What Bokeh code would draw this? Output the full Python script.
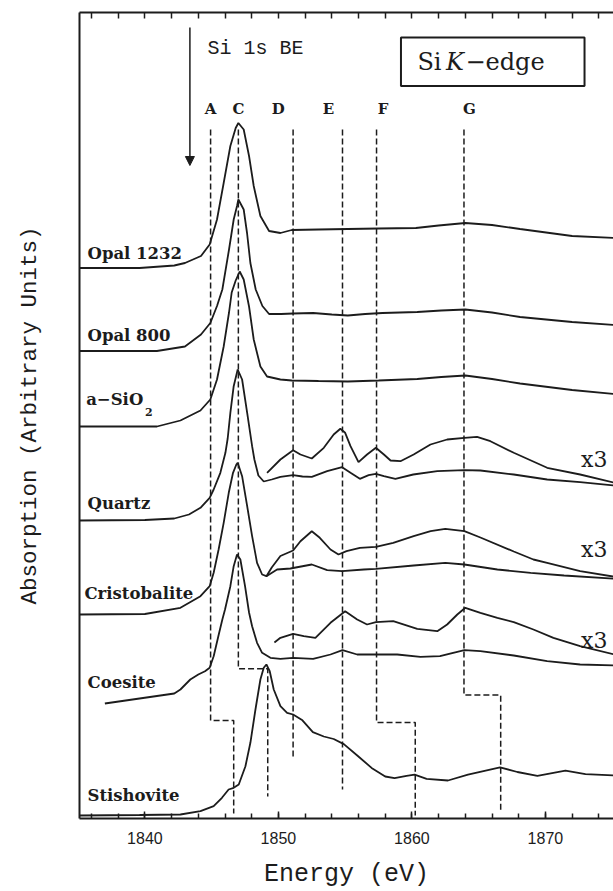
import numpy as np
from bokeh.plotting import figure
from bokeh.models import Range1d, LinearAxis, FixedTicker, SingleIntervalTicker, Arrow, NormalHead
from bokeh.core.properties import value
from bokeh.embed import file_html
from bokeh.resources import INLINE

# ---------------- data (energy in eV, absorption in arbitrary units) ----------------
samples = ["Opal 1232", "Opal 800", "a\u2212SiO", "Quartz", "Cristobalite", "Coesite", "Stishovite"]
offsets = [550.5, 467.5, 392, 298, 204, 114, 3]

opal1232_E = [1835.0, 1839.6, 1842.2, 1843.0, 1844.2, 1844.85, 1845.4, 1845.9, 1846.4, 1846.8, 1847.0, 1847.4,
              1847.8, 1848.15, 1848.65, 1849.3, 1850.15, 1851.0, 1853.0, 1855.2, 1857.5, 1860.3, 1862.0, 1864.0,
              1866.0, 1868.1, 1872.0, 1875.2]
opal1232_A = [0, 0, 2.5, 5, 12, 23.5, 48.5, 85, 122, 140, 145, 138.5, 112, 82, 52, 37, 35, 38, 38.5, 39, 39.5,
              40, 42.5, 45, 43, 39, 32, 30]

opal800_E = [1835.0, 1840.9, 1843.0, 1844.2, 1844.9, 1845.4, 1845.8, 1846.3, 1846.65, 1846.9, 1847.0, 1847.4,
             1847.65, 1847.9, 1848.3, 1848.8, 1849.3, 1850.2, 1851.1, 1852.6, 1854.0, 1855.2, 1856.5, 1857.8,
             1860.4, 1862.2, 1864.0, 1866.0, 1868.1, 1872.0, 1875.2]
opal800_A = [0, 0, 4.5, 16.5, 28, 45, 61.5, 101.5, 131.5, 145, 151.5, 141.5, 118, 88, 61.5, 45, 37, 37, 37.5, 38,
             36.5, 35.5, 37, 38, 39, 40.5, 41.5, 38.5, 34, 29, 26]

asio2_E = [1835.0, 1840.9, 1842.66, 1844.16, 1844.9, 1845.4, 1845.9, 1846.3, 1846.5, 1846.8, 1847.1, 1847.4,
           1847.8, 1848.15, 1848.65, 1849.15, 1850.15, 1851.0, 1853.0, 1855.2, 1857.5, 1860.4, 1862.2, 1864.0,
           1866.0, 1868.1, 1872.0, 1875.2]
asio2_A = [0, 0, 6, 16, 27, 47, 80, 114, 134, 146, 155, 147, 120, 87, 60, 50, 47, 46, 45.5, 45, 46, 47.5, 49.5,
           51, 47.5, 43, 36.5, 32.5]

quartz_E = [1835.0, 1840.0, 1842.2, 1843.3, 1844.16, 1844.85, 1845.15, 1845.65, 1846.03, 1846.2, 1846.4, 1846.65,
            1846.95, 1847.28, 1847.66, 1848.03, 1848.2, 1848.5, 1848.9, 1849.5, 1850.15, 1851.1, 1851.8, 1852.5,
            1853.65, 1854.77, 1855.4, 1856.1, 1856.76, 1857.3, 1857.9, 1858.76, 1860.1, 1861.9, 1863.93, 1865.13,
            1867.63, 1870.13, 1872.6, 1875.2]
quartz_A = [0, 0.5, 2, 6, 12.7, 22.7, 31, 47.7, 67.7, 82, 107.7, 134.3, 151, 141, 107.7, 74.3, 61, 45, 39, 41,
            43.7, 45.3, 44, 43.7, 49.3, 53.3, 47.7, 41.7, 45.3, 46.7, 44.3, 41.7, 46, 49.3, 50.3, 50, 46, 41,
            38.3, 35]
quartz_x3_E = [1849.15, 1850.15, 1851.1, 1851.65, 1852.5, 1853.4, 1854.14, 1854.64, 1855.0, 1855.4, 1856.0,
               1856.64, 1857.3, 1857.9, 1858.4, 1859.14, 1860.13, 1861.39, 1862.64, 1863.93, 1864.88, 1865.88,
               1867.63, 1870.13, 1872.6, 1875.2]
quartz_x3_A = [47.7, 61, 70.3, 66, 62, 72.7, 86, 91.7, 87.7, 74.3, 58.3, 66, 72.7, 66, 60, 59.3, 66, 76, 81,
               82.7, 83.7, 79.3, 67.7, 52.7, 46, 37.7]

crist_E = [1835.0, 1840.0, 1842.66, 1844.16, 1844.85, 1845.15, 1845.52, 1845.9, 1846.28, 1846.6, 1846.85,
           1846.95, 1847.28, 1847.66, 1848.03, 1848.4, 1848.78, 1849.1, 1849.9, 1850.9, 1852.5, 1853.65, 1854.77,
           1856.4, 1857.3, 1860.13, 1862.5, 1863.93, 1866.4, 1868.9, 1871.4, 1875.2]
crist_A = [0, 0.5, 6.7, 18.3, 28.3, 41.7, 65, 91.7, 121.7, 141.7, 150, 151.7, 138.3, 108.3, 78.3, 51.7, 40,
           38.3, 45, 46, 50, 44.3, 43.3, 45, 45.7, 49, 51.7, 50, 45, 41.7, 39, 35.7]
crist_x3_E = [1849.1, 1849.5, 1850.15, 1851.1, 1851.65, 1852.5, 1853.1, 1853.9, 1854.5, 1855.1, 1856.1, 1857.3,
              1858.6, 1860.13, 1861.4, 1862.5, 1863.93, 1865.13, 1867.63, 1869.1, 1870.13, 1872.6, 1875.2]
crist_x3_A = [38.3, 47, 58.5, 64, 73.3, 83.3, 76.7, 65, 60, 63.3, 66.7, 67.7, 71.7, 78.3, 83.3, 85.7, 83.3, 77,
              63, 55, 51.7, 43.3, 37.7]

coes_E = [1837.0, 1839.6, 1842.2, 1842.66, 1843.4, 1844.0, 1844.5, 1844.85, 1845.15, 1845.5, 1845.8, 1846.0,
          1846.4, 1846.65, 1846.9, 1847.15, 1847.5, 1847.8, 1848.03, 1848.4, 1848.78, 1849.4, 1850.15, 1851.1,
          1852.6, 1853.9, 1854.8, 1855.9, 1857.3, 1858.9, 1860.64, 1862.1, 1863.93, 1865.13, 1867.63, 1870.13,
          1872.6, 1875.2]
coes_A = [1, 6, 11, 15, 25, 30, 33.3, 36.7, 48.3, 68.3, 85, 95, 118.3, 138.3, 150, 145, 118.3, 92, 78.3, 61.7,
          51.7, 46.7, 45.7, 46.7, 45.7, 50, 54.3, 50, 50, 50, 47.7, 48.3, 54.3, 53.3, 49, 43.3, 40, 39]
coes_x3_E = [1849.7, 1850.15, 1851.1, 1851.9, 1852.77, 1853.9, 1855.0, 1855.9, 1856.64, 1857.3, 1858.6, 1860.4,
             1861.9, 1862.64, 1863.4, 1864.0, 1865.13, 1866.4, 1867.63, 1869.1, 1870.6, 1872.6, 1875.2]
coes_x3_A = [62, 66.7, 70.7, 68.3, 66.7, 81.7, 93.3, 85, 80, 82.3, 83.3, 75.7, 73.3, 80, 90, 96.7, 91.7, 86.7,
             82.3, 75, 66.7, 58.3, 50]

stish_E = [1835.0, 1839.6, 1842.66, 1844.16, 1845.15, 1845.77, 1846.27, 1846.65, 1847.03, 1847.53, 1847.9,
           1848.28, 1848.65, 1848.9, 1849.1, 1849.35, 1849.65, 1850.15, 1850.65, 1851.1, 1851.8, 1852.58, 1853.4,
           1854.14, 1854.9, 1855.95, 1856.98, 1858.0, 1858.7, 1859.6, 1860.2, 1861.1, 1862.7, 1864.2, 1866.6,
           1867.9, 1869.4, 1871.5, 1873.0, 1875.2]
stish_A = [0, 0.5, 1, 4.3, 9.3, 17.7, 26, 27.7, 31, 49.3, 72.7, 106, 136, 147.7, 151, 144.3, 126, 109.3, 102.7,
           101, 95.2, 83.3, 79, 76.5, 71.4, 59.5, 47.6, 39, 37.4, 39.7, 40.8, 36.7, 35, 40.8, 48.2, 43.5, 39.7,
           44.8, 41.4, 40]

main_E = [opal1232_E, opal800_E, asio2_E, quartz_E, crist_E, coes_E, stish_E]
main_A = [opal1232_A, opal800_A, asio2_A, quartz_A, crist_A, coes_A, stish_A]
x3_index = [3, 4, 5]
x3_E = [quartz_x3_E, crist_x3_E, coes_x3_E]
x3_A = [quartz_x3_A, crist_x3_A, coes_x3_A]
x3_label_y = [359, 269, 178]

# feature markers A, C, D, E, F, G (silica-IV energies and their stishovite counterparts)
feat_names = ["A", "C", "D", "E", "F", "G"]
feat_label_E = [1844.92, 1847.0, 1849.98, 1853.75, 1857.84, 1864.3]
feat_E = [1844.92, 1847.0, 1851.1, 1854.8, 1857.35, 1863.9]
feat_stop = [98, 149.7, 61, 29, 96, 123.4]
feat_stish_E = [1846.65, 1849.2, None, None, 1860.25, 1866.65]
feat_stish_stop = [5, 22, None, None, 3, 6]
feat_top = 689

si1s_BE = 1843.37

# ---------------- figure ----------------
INK = "#1c1c1c"
p = figure(frame_width=534, frame_height=806, x_range=Range1d(1835.1, 1875.1), y_range=Range1d(0, 806),
           output_backend="svg", toolbar_location=None, x_axis_location=None, y_axis_location=None,
           min_border_left=79, min_border_right=0, min_border_top=12, min_border_bottom=0)
p.outline_line_color = None
p.grid.visible = False
p.background_fill_color = "white"

bottom = LinearAxis(ticker=SingleIntervalTicker(interval=10, num_minor_ticks=5), axis_label="Energy (eV)")
bottom.axis_line_width = 2
bottom.axis_line_color = INK
bottom.major_tick_in = 7
bottom.major_tick_out = 0
bottom.minor_tick_in = 5
bottom.minor_tick_out = 0
bottom.major_tick_line_color = INK
bottom.minor_tick_line_color = INK
bottom.major_tick_line_width = 1.5
bottom.minor_tick_line_width = 1.5
bottom.major_label_standoff = 13
bottom.major_label_text_font = "Liberation Sans"
bottom.major_label_text_font_size = "16px"
bottom.major_label_text_color = INK
bottom.axis_label_standoff = 13
bottom.axis_label_text_font = "Liberation Mono"
bottom.axis_label_text_font_style = "normal"
bottom.axis_label_text_font_size = "25px"
bottom.axis_label_text_color = INK
p.add_layout(bottom, "below")

top = LinearAxis(ticker=SingleIntervalTicker(interval=2, num_minor_ticks=0))
top.axis_line_width = 2
top.axis_line_color = INK
top.major_tick_in = 6
top.major_tick_out = 0
top.minor_tick_in = 0
top.minor_tick_out = 0
top.major_tick_line_color = INK
top.major_tick_line_width = 1.5
top.major_label_text_color = None
top.major_label_text_font_size = "1px"
top.major_label_standoff = 0
p.add_layout(top, "above")

left = LinearAxis(ticker=FixedTicker(ticks=[]), axis_label="Absorption (Arbitrary Units)")
left.axis_line_width = 2
left.axis_line_color = INK
left.major_label_text_color = None
left.major_label_text_font_size = "1px"
left.major_tick_in = 0
left.major_tick_out = 0
left.axis_label_standoff = 37
left.axis_label_text_font = "Liberation Mono"
left.axis_label_text_font_style = "normal"
left.axis_label_text_font_size = "22.5px"
left.axis_label_text_color = INK
p.add_layout(left, "left")

# spectra
for E, A, off in zip(main_E, main_A, offsets):
    p.line(E, [a + off for a in A], line_color=INK, line_width=1.8)
for idx, E, A in zip(x3_index, x3_E, x3_A):
    p.line(E, [a + offsets[idx] for a in A], line_color=INK, line_width=1.8)

# dashed feature lines
xs, ys = [], []
for fe, stop, se, sstop in zip(feat_E, feat_stop, feat_stish_E, feat_stish_stop):
    if se is None:
        xs.append([fe, fe]); ys.append([feat_top, stop])
    else:
        xs.append([fe, fe, se, se]); ys.append([feat_top, stop, stop, sstop])
p.multi_line(xs, ys, line_color=INK, line_width=1.5, line_dash="6 3")

# texts
label_x = [1835.7, 1835.7, 1835.6, 1835.7, 1835.47, 1835.7, 1835.7]
label_y = [565, 483, 419, 315, 225, 136, 23]
p.text(label_x, label_y, text=samples, text_font=value("DejaVu Serif"), text_font_style="bold",
       text_font_size="16.5px", text_baseline="middle", text_align="left", text_color=INK)
p.text([1840.0], [407], text=["2"], text_font=value("DejaVu Serif"), text_font_style="bold",
       text_font_size="11px", text_baseline="middle", text_align="left", text_color=INK)

p.text([1874.65] * 3, x3_label_y, text=["x3"] * 3, text_font=value("DejaVu Serif"),
       text_font_size="22px", text_baseline="middle", text_align="right", text_color=INK)

p.text(feat_label_E, [710] * 6, text=feat_names, text_font=value("DejaVu Serif"), text_font_style="bold",
       text_font_size="15px", text_baseline="middle", text_align="center", text_color=INK)

p.text([1844.68], [770], text=["Si 1s BE"], text_font=value("Liberation Mono"), text_font_size="20px",
       text_baseline="middle", text_align="left", text_color=INK)
p.add_layout(Arrow(end=NormalHead(size=9, fill_color=INK, line_color=INK), x_start=si1s_BE, y_start=791,
                   x_end=si1s_BE, y_end=653, line_color=INK, line_width=1.5))

# Si K-edge box
p.quad(left=[1859.18], right=[1872.93], bottom=[732.5], top=[781], fill_color=None, line_color=INK, line_width=2)
p.text([1860.41], [757], text=["Si"], text_font=value("DejaVu Serif"), text_font_size="24px",
       text_baseline="middle", text_align="left", text_color=INK)
p.text([1862.55], [757], text=["K"], text_font=value("DejaVu Serif"), text_font_style="italic",
       text_font_size="24px", text_baseline="middle", text_align="left", text_color=INK)
p.text([1864.01], [757], text=["\u2212edge"], text_font=value("DejaVu Serif"), text_font_size="24px",
       text_baseline="middle", text_align="left", text_color=INK)

open("out.html", "w").write(file_html(p, INLINE))
